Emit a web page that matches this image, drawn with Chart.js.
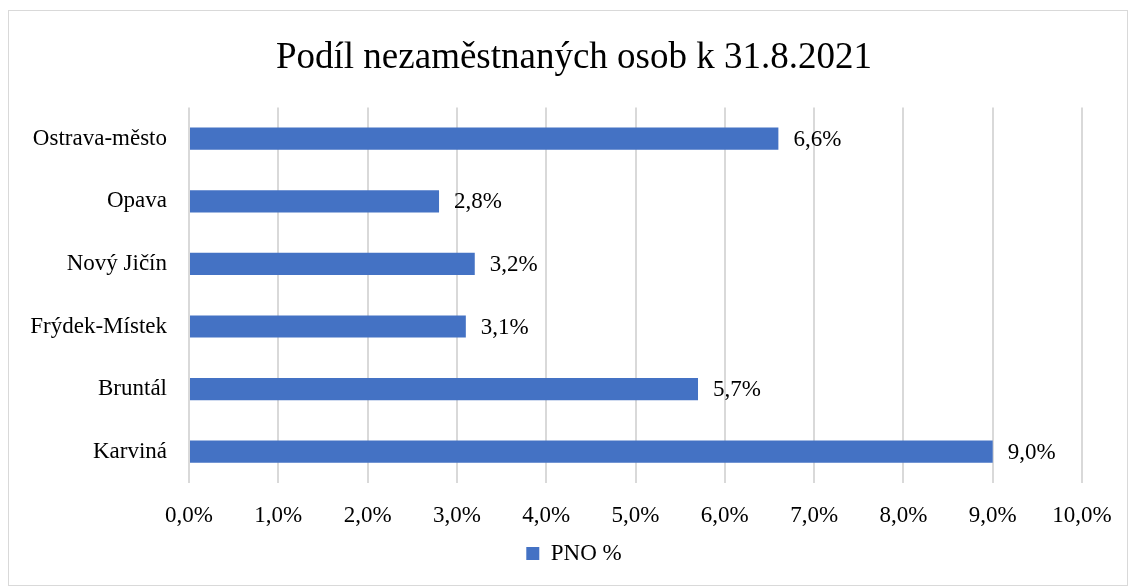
<!DOCTYPE html>
<html>
<head>
<meta charset="utf-8">
<script src="https://cdn.jsdelivr.net/npm/chart.js@4/dist/chart.umd.min.js"></script>
<style>
  html, body { margin: 0; padding: 0; background: #fff; }
  #wrap { position: relative; width: 1132px; height: 587px; }
  #frame { position: absolute; left: 8px; top: 10px; width: 1118px; height: 574px; border: 1px solid #d9d9d9; pointer-events: none; }
</style>
</head>
<body>
<div id="wrap">
  <canvas id="myChart" width="1132" height="587"></canvas>
  <div id="frame"></div>
</div>
<script>
var districts = ['Ostrava-město', 'Opava', 'Nový Jičín', 'Frýdek-Místek', 'Bruntál', 'Karviná'];
var pnoValues = [6.6, 2.8, 3.2, 3.1, 5.7, 9.0];
var seriesName = 'PNO %';
var xTicks = [0, 1, 2, 3, 4, 5, 6, 7, 8, 9, 10];

var serif = '"Liberation Serif", "Times New Roman", serif';

function pct(v) {
    return v.toFixed(1).replace('.', ',') + '%';
}

// value labels at the end of each bar
var barLabels = {
    id: 'barLabels',
    afterDatasetsDraw: function(chart) {
        var ctx = chart.ctx;
        var meta = chart.getDatasetMeta(0);
        ctx.save();
        ctx.font = '23px ' + serif;
        ctx.fillStyle = '#000';
        ctx.textAlign = 'left';
        ctx.textBaseline = 'middle';
        meta.data.forEach(function(bar, i) {
            ctx.fillText(pct(chart.data.datasets[0].data[i]), bar.x + 15, bar.y + 1);
        });
        ctx.restore();
    }
};

var ctx = document.getElementById('myChart').getContext('2d');
var myChart = new Chart(ctx, {
    type: 'bar',
    plugins: [barLabels],
    data: {
        labels: districts,
        datasets: [{
            label: seriesName,
            data: pnoValues,
            backgroundColor: '#4472C4',
            borderWidth: 0,
            barPercentage: 0.71,
            categoryPercentage: 0.5
        }]
    },
    options: {
        indexAxis: 'y',
        responsive: false,
        animation: false,
        layout: { padding: { left: 16, right: 0, top: 0, bottom: 12 } },
        plugins: {
            title: {
                display: true,
                text: 'Podíl nezaměstnaných osob k 31.8.2021',
                color: '#000',
                font: { family: serif, size: 37, weight: 'normal' },
                padding: { top: 36, bottom: 27 }
            },
            legend: {
                position: 'bottom',
                labels: {
                    color: '#000',
                    boxWidth: 13,
                    boxHeight: 13,
                    padding: 0,
                    font: { family: serif, size: 23 }
                }
            },
            tooltip: { enabled: false }
        },
        scales: {
            x: {
                min: 0,
                max: 10,
                afterBuildTicks: function(scale) {
                    scale.ticks = xTicks.map(function(v) { return { value: v }; });
                },
                afterFit: function(scale) {
                    scale.paddingRight = 50;
                    scale.height = 59;
                },
                grid: { color: '#d9d9d9', lineWidth: 2, drawTicks: false },
                border: { display: false },
                ticks: {
                    color: '#000',
                    padding: 19,
                    font: { family: serif, size: 23 },
                    callback: function(v) { return pct(v); }
                }
            },
            y: {
                afterFit: function(scale) { scale.width = 173; },
                grid: { display: false, drawTicks: false },
                border: { display: false },
                ticks: {
                    color: '#000',
                    padding: 22,
                    font: { family: serif, size: 23 }
                }
            }
        }
    }
});
</script>
</body>
</html>
